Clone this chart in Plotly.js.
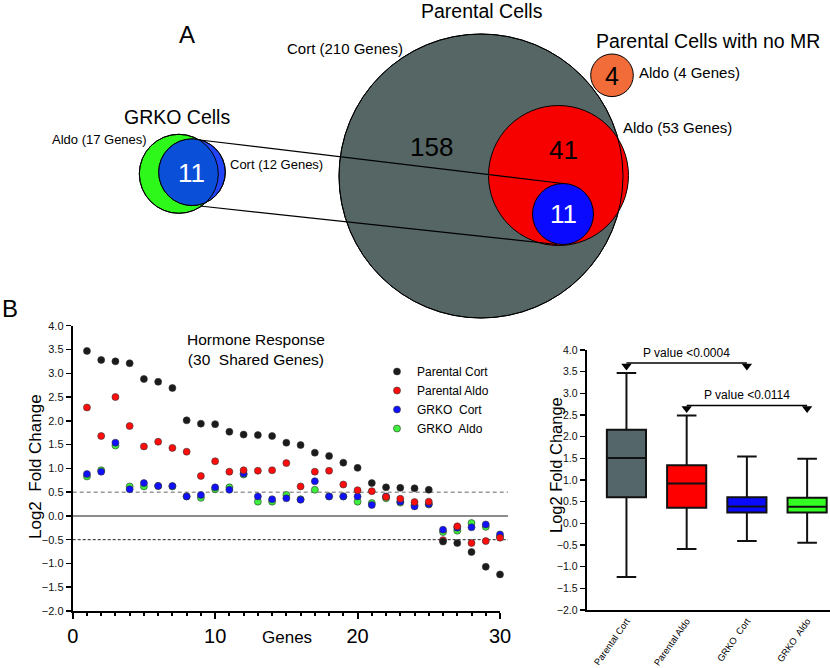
<!DOCTYPE html>
<html>
<head>
<meta charset="utf-8">
<script src="https://cdn.plot.ly/plotly-3.0.1.min.js"></script>
<style>html,body{margin:0;padding:0;background:#fff;}#chart{width:830px;height:668px;}</style>
</head>
<body>
<div id="chart"></div>
<script>
// ---------- DATA ----------
const genes = [1,2,3,4,5,6,7,8,9,10,11,12,13,14,15,16,17,18,19,20,21,22,23,24,25,26,27,28,29,30];
const parentalCort = [3.47,3.28,3.25,3.21,2.88,2.82,2.69,2.01,1.94,1.93,1.77,1.71,1.70,1.68,1.54,1.49,1.33,1.26,1.12,1.01,0.69,0.60,0.59,0.58,0.55,-0.54,-0.57,-0.76,-1.07,-1.23];
const parentalAldo = [2.28,1.68,2.50,1.89,1.46,1.56,1.43,1.35,0.84,1.15,0.93,0.96,0.95,0.96,1.11,0.62,0.93,0.95,0.66,0.54,0.52,0.40,0.36,0.29,0.30,-0.51,-0.22,-0.57,-0.53,-0.46];
const grkoCort = [0.88,0.93,1.54,0.56,0.69,0.63,0.63,0.41,0.44,0.60,0.55,0.89,0.41,0.35,0.37,0.34,0.73,0.41,0.41,0.41,0.23,0.41,0.30,0.20,0.25,-0.29,-0.25,-0.24,-0.18,-0.39];
const grkoAldo = [0.83,0.96,1.48,0.62,0.62,0.63,0.62,0.41,0.38,0.56,0.60,0.87,0.30,0.30,0.44,0.35,0.55,0.41,0.41,0.30,0.27,0.37,0.28,0.23,0.24,-0.34,-0.31,-0.15,-0.23,-0.44];
const seriesNames = ['Parental Cort','Parental Aldo','GRKO  Cort','GRKO  Aldo'];

const boxCategories = ['Parental Cort','Parental Aldo','GRKO  Cort','GRKO  Aldo'];
const boxMin = [-1.24,-0.59,-0.41,-0.45];
const boxQ1 = [0.60,0.36,0.25,0.25];
const boxMedian = [1.51,0.92,0.39,0.38];
const boxQ3 = [2.16,1.34,0.60,0.59];
const boxMax = [3.47,2.49,1.54,1.49];
const pValueLabels = ['P value <0.0004','P value <0.0114'];
const pValuePairs = [[0,2],[1,3]];

const parentalCortGenes = 210, parentalAldoGenes = 53, noMRAldoGenes = 4;
const grkoAldoGenes = 17, grkoCortGenes = 12;
const parentalCortOnly = 158, parentalAldoOnly = 41, parentalShared = 11, grkoShared = 11;

// ---------- STYLE / LAYOUT ----------
const W = 830, H = 668;
const F = 'Liberation Sans, Arial, sans-serif';
const px = x => x / W, py = y => 1 - y / H;
const cBlack = '#1b1b1b', cRed = '#ff0d0d', cBlue = '#1010ff', cGreen = '#3cf03c';

function ann(text, x, y, size, extra) {
  return Object.assign({text: text, xref: 'paper', yref: 'paper', x: px(x), y: py(y),
    xanchor: 'center', yanchor: 'middle', showarrow: false,
    font: {family: F, size: size, color: '#000'}}, extra || {});
}
function circ(cx, cy, r, fill, lw) {
  return {type: 'circle', xref: 'paper', yref: 'paper', layer: 'above',
    x0: px(cx - r), x1: px(cx + r), y0: py(cy + r), y1: py(cy - r),
    fillcolor: fill, line: {color: '#000', width: lw}};
}
function lensPath(bx, by, rb, gx, gy, rg) {
  const pts = [];
  const dx = bx - gx, dy = by - gy;
  for (let i = 0; i < 180; i++) {
    const t = i / 180 * 2 * Math.PI, ux = Math.cos(t), uy = Math.sin(t);
    const b = ux * dx + uy * dy, c = dx * dx + dy * dy - rg * rg;
    const s = -b + Math.sqrt(b * b - c);
    const r = Math.min(rb, s);
    pts.push([bx + r * ux, by + r * uy]);
  }
  return 'M' + pts.map(p => px(p[0]).toFixed(5) + ',' + py(p[1]).toFixed(5)).join('L') + 'Z';
}

// Venn geometry (pixel positions)
const gray = {x: 481, y: 176, r: 142}, red = {x: 558.5, y: 175.5, r: 70};
const pBlue = {x: 563, y: 214, r: 30.5}, orange = {x: 612, y: 75.3, r: 21.3};
const gGreen = {x: 178.8, y: 173.8, r: 39.5}, gBlue = {x: 192, y: 172.2, r: 33.3};

const shapes = [
  circ(gray.x, gray.y, gray.r, '#566665', 1),
  circ(red.x, red.y, red.r, '#f70000', 1),
  circ(gray.x, gray.y, gray.r, 'rgba(0,0,0,0)', 1),
  circ(orange.x, orange.y, orange.r, '#f26c3a', 1),
  circ(gGreen.x, gGreen.y, gGreen.r, '#2ef81a', 1),
  circ(gBlue.x, gBlue.y, gBlue.r, '#2244f8', 1),
  {type: 'path', xref: 'paper', yref: 'paper', layer: 'above', path: lensPath(gBlue.x, gBlue.y, gBlue.r, gGreen.x, gGreen.y, gGreen.r), fillcolor: '#0a4fd8', line: {width: 0}},
  circ(gGreen.x, gGreen.y, gGreen.r, 'rgba(0,0,0,0)', 1),
  circ(gBlue.x, gBlue.y, gBlue.r, 'rgba(0,0,0,0)', 1),
  {type: 'line', xref: 'paper', yref: 'paper', layer: 'above', x0: px(200), y0: py(140), x1: px(pBlue.x), y1: py(pBlue.y - pBlue.r), line: {color: '#000', width: 1.2}},
  {type: 'line', xref: 'paper', yref: 'paper', layer: 'above', x0: px(200), y0: py(206), x1: px(557), y1: py(pBlue.y + pBlue.r), line: {color: '#000', width: 1.2}},
  circ(pBlue.x, pBlue.y, pBlue.r, '#0a0aff', 1),
  // scatter reference lines
  {type: 'line', xref: 'paper', yref: 'y', layer: 'below', x0: px(72.7), x1: px(508), y0: 0, y1: 0, line: {color: '#666', width: 1.5}},
  {type: 'line', xref: 'paper', yref: 'y', layer: 'below', x0: px(72.7), x1: px(508), y0: 0.5, y1: 0.5, line: {color: '#999', width: 1.5, dash: '4px,3px'}},
  {type: 'line', xref: 'paper', yref: 'y', layer: 'below', x0: px(72.7), x1: px(508), y0: -0.5, y1: -0.5, line: {color: '#222', width: 1, dash: '3px,2px'}}
];

const annotations = [
  ann('A', 187, 34, 24),
  ann('B', 0, 309, 24, {xanchor: 'left'}),
  ann('Parental Cells', 482, 11, 19.5),
  ann('Parental Cells with no MR', 708, 41, 19.5),
  ann('GRKO Cells', 177, 117, 19.5),
  ann('Cort (' + parentalCortGenes + ' Genes)', 345, 48, 15),
  ann('Aldo (' + noMRAldoGenes + ' Genes)', 637, 73, 15, {xanchor: 'left'}),
  ann('Aldo (' + parentalAldoGenes + ' Genes)', 621, 128, 15, {xanchor: 'left'}),
  ann('Aldo (' + grkoAldoGenes + ' Genes)', 149, 139, 13, {xanchor: 'right'}),
  ann('Cort (' + grkoCortGenes + ' Genes)', 228, 164, 13, {xanchor: 'left'}),
  ann(String(parentalCortOnly), 431, 147, 26),
  ann(String(parentalAldoOnly), 563, 150, 26),
  ann(String(parentalShared), 563, 214, 26, {font: {family: F, size: 26, color: '#fff'}}),
  ann(String(noMRAldoGenes), 612, 76, 25),
  ann(String(grkoShared), 191, 173, 26, {font: {family: F, size: 26, color: '#fff'}}),
  ann('Hormone Response<br>(30  Shared Genes)', 256, 349, 15.5),
  ann('Genes', 287, 637, 17),
  ann('Log2  Fold Change', 35, 467, 17, {textangle: -90}),
  ann('Log2 Fold Change', 556, 465, 16.5, {textangle: -90})
];

// p-value brackets
const bracketY = [3.70, 2.72];
pValuePairs.forEach((pr, i) => {
  annotations.push({text: pValueLabels[i], xref: 'x2', yref: 'y2', x: (pr[0] + pr[1]) / 2, y: bracketY[i] + 0.24,
    showarrow: false, xanchor: 'center', yanchor: 'middle', font: {family: F, size: 12, color: '#000'}});
});

const mk = (color) => ({size: 7, color: color, line: {color: '#333', width: 0.6}});
const traces = [
  {x: genes, y: grkoAldo, name: seriesNames[3], type: 'scatter', mode: 'markers', marker: mk(cGreen), xaxis: 'x', yaxis: 'y', cliponaxis: false},
  {x: genes, y: grkoCort, name: seriesNames[2], type: 'scatter', mode: 'markers', marker: mk(cBlue), xaxis: 'x', yaxis: 'y', cliponaxis: false},
  {x: genes, y: parentalAldo, name: seriesNames[1], type: 'scatter', mode: 'markers', marker: mk(cRed), xaxis: 'x', yaxis: 'y', cliponaxis: false},
  {x: genes, y: parentalCort, name: seriesNames[0], type: 'scatter', mode: 'markers', marker: mk(cBlack), xaxis: 'x', yaxis: 'y', cliponaxis: false}
];
const boxFills = ['#546669', '#ff0000', '#0a0aff', '#33ff22'];
boxCategories.forEach((c, i) => {
  traces.push({type: 'box', x: [c], q1: [boxQ1[i]], median: [boxMedian[i]], q3: [boxQ3[i]],
    lowerfence: [boxMin[i]], upperfence: [boxMax[i]], fillcolor: boxFills[i],
    line: {color: '#111', width: 2}, whiskerwidth: 0.5, width: 0.65, boxpoints: false,
    xaxis: 'x2', yaxis: 'y2', showlegend: false, hoverinfo: 'skip'});
});
pValuePairs.forEach((pr, i) => {
  const xs = [boxCategories[pr[0]], boxCategories[pr[1]]];
  traces.push({type: 'scatter', mode: 'lines', x: xs, y: [bracketY[i], bracketY[i]], line: {color: '#000', width: 1.5},
    xaxis: 'x2', yaxis: 'y2', showlegend: false, hoverinfo: 'skip', cliponaxis: false});
  traces.push({type: 'scatter', mode: 'markers', x: xs, y: [bracketY[i] - 0.07, bracketY[i] - 0.07],
    marker: {symbol: 'triangle-down', size: 9, color: '#000'},
    xaxis: 'x2', yaxis: 'y2', showlegend: false, hoverinfo: 'skip', cliponaxis: false});
});

const yTicks = {range: [-2, 4], dtick: 0.5, tick0: 0, tickformat: '.1f', ticks: 'outside', ticklen: 5, tickwidth: 1.5,
  tickcolor: '#000', showline: true, linewidth: 2, linecolor: '#000', showgrid: false, zeroline: false,
  tickfont: {family: F, size: 11, color: '#111'}, fixedrange: true};

const layout = {
  width: W, height: H, margin: {l: 0, r: 0, t: 0, b: 0}, paper_bgcolor: '#fff', plot_bgcolor: 'rgba(0,0,0,0)',
  font: {family: F},
  showlegend: true,
  legend: {x: px(377), y: py(357), xanchor: 'left', yanchor: 'top', traceorder: 'reversed',
    font: {family: F, size: 12, color: '#000'}, bgcolor: 'rgba(0,0,0,0)', itemclick: false},
  xaxis: {domain: [px(72.7), px(500)], range: [0, 30], anchor: 'y', dtick: 10, tick0: 0, ticks: 'outside', ticklen: 6,
    tickwidth: 2, tickcolor: '#000', showline: true, linewidth: 2, linecolor: '#000', showgrid: false, zeroline: false,
    tickfont: {family: F, size: 20, color: '#000'},
    minor: {dtick: 1, ticks: 'outside', ticklen: 3, tickwidth: 2, tickcolor: '#000', showgrid: false}},
  yaxis: Object.assign({domain: [py(611), py(325.7)], anchor: 'x'}, yTicks),
  xaxis2: {domain: [px(586.7), 1], anchor: 'y2', type: 'category', categoryorder: 'array', categoryarray: boxCategories,
    range: [-0.66, 3.38], showline: true, linewidth: 2, linecolor: '#000', ticks: '', showgrid: false, zeroline: false,
    tickangle: -55, ticklabelstandoff: 0, tickfont: {family: F, size: 9.3, color: '#000'}},
  yaxis2: Object.assign({domain: [py(610), py(350)], anchor: 'x2'}, yTicks, {tickfont: {family: F, size: 10.5, color: '#111'}}),
  shapes: shapes,
  annotations: annotations
};

Plotly.newPlot('chart', traces, layout, {displayModeBar: false, staticPlot: true});
</script>
</body>
</html>
